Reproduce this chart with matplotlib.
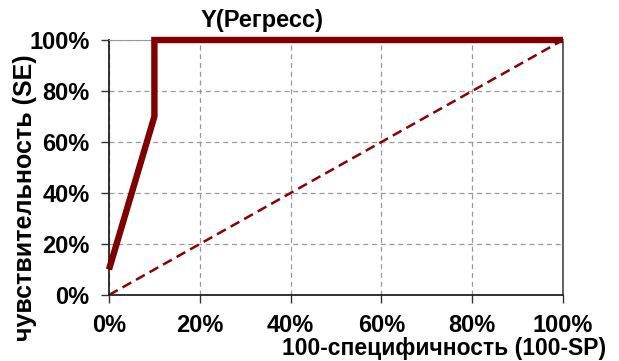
import matplotlib
matplotlib.use("Agg")
import matplotlib.pyplot as plt

# ROC curve points (%)
roc_x = [0, 10, 10, 100]
roc_y = [10, 70, 100, 100]
diag = [0, 100]
ticks = [0, 20, 40, 60, 80, 100]
tick_labels = ["0%", "20%", "40%", "60%", "80%", "100%"]

plt.rcParams['font.family'] = ['Liberation Sans', 'DejaVu Sans']
plt.rcParams['font.weight'] = 'bold'

fig = plt.figure(figsize=(6.19, 3.61), dpi=100)
ax = fig.add_axes([109 / 619, 1 - 295 / 361, 454 / 619, 255 / 361])

ax.plot(diag, diag, color="#8B0000", lw=1.8, ls=(0, (4, 2.2)))
ax.plot(roc_x, roc_y, color="#800000", lw=4.6, solid_joinstyle="miter",
        solid_capstyle="butt", clip_on=False, zorder=3)

ax.set_xlim(0, 100)
ax.set_ylim(0, 100)
ax.set_xticks(ticks)
ax.set_xticklabels(tick_labels, fontsize=17, fontweight="bold")
ax.set_yticks(ticks)
ax.set_yticklabels(tick_labels, fontsize=17, fontweight="bold")
ax.grid(True, color="#999999", ls=(0, (4, 3)), lw=0.9)
ax.tick_params(direction="out", length=6, width=1, color="#333333", pad=8)

for s in ["left", "bottom"]:
    ax.spines[s].set_color("#222222")
    ax.spines[s].set_linewidth(1.3)
ax.spines["top"].set_color("#999999")
ax.spines["right"].set_color("#555555")
ax.spines["right"].set_linewidth(1.3)

fig.text(262 / 619, 1 - 20 / 361, "Y(Регресс)", ha="center", va="center",
         fontsize=17, fontweight="bold")
fig.text(606 / 619, 1 - 349 / 361, "100-специфичность (100-SP)", ha="right", va="center",
         fontsize=16.5, fontweight="bold")
fig.text(25 / 619, 1 - 198 / 361, "чувствительность (SE)", ha="center", va="center",
         rotation=90, fontsize=18, fontweight="bold")

fig.savefig("out.png", dpi=100)
